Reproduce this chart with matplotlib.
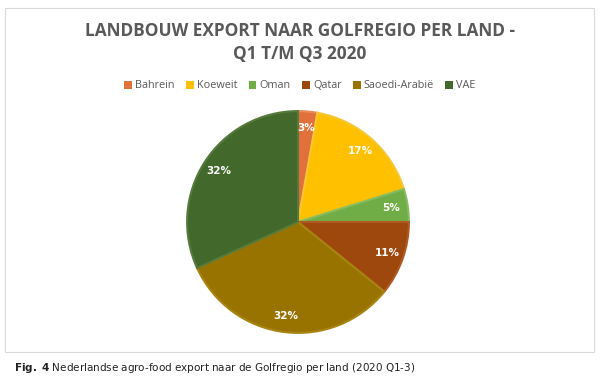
import numpy as np
import matplotlib.pyplot as plt
from matplotlib.patches import Rectangle, Patch

# data
landen = ["Bahrein", "Koeweit", "Oman", "Qatar", "Saoedi-Arabië", "VAE"]
aandeel = [2.8, 17.4, 4.8, 10.8, 32.4, 31.8]
kleuren = ["#E2703A", "#FFC000", "#70AD47", "#9E480E", "#997300", "#43682B"]
randen = ["#E98A5C", "#F5C735", "#86BC5E", "#AE5A22", "#A88410", "#557A3C"]

fig = plt.figure(figsize=(6.0, 3.81), dpi=100)
fig.patch.set_facecolor("white")

# kader om de grafiek
fig.patches.append(Rectangle((5 / 600, 1 - 352 / 381), 589 / 600, 344 / 381,
                             transform=fig.transFigure, facecolor="white",
                             edgecolor="#D9D9D9", linewidth=0.8, zorder=-5))

# TITEL
fig.text(0.5, 1 - 31 / 381, "LANDBOUW EXPORT NAAR GOLFREGIO PER LAND -",
         ha="center", va="center", fontsize=12.4, fontweight="bold",
         color="#595959", family="Open Sans")
fig.text(0.5, 1 - 54 / 381, "Q1 T/M Q3 2020",
         ha="center", va="center", fontsize=12.4, fontweight="bold",
         color="#595959", family="Open Sans")

# PIE
ax = fig.add_axes([186 / 600, 1 - 334 / 381, 224 / 600, 224 / 381])
wedges, _ = ax.pie(aandeel, colors=kleuren, startangle=90, counterclock=False,
                   wedgeprops=dict(linewidth=1.5))
for w, r in zip(wedges, randen):
    w.set_edgecolor(r)

for w, v in zip(wedges, aandeel):
    ang = np.deg2rad((w.theta1 + w.theta2) / 2)
    rr = 0.85
    ax.text(rr * np.cos(ang), rr * np.sin(ang), f"{round(v)}%",
            ha="center", va="center", color="white", fontsize=7.5,
            fontweight="bold", family="DejaVu Sans")
ax.set_xlim(-1.01, 1.01)
ax.set_ylim(-1.01, 1.01)
ax.set_aspect("equal")

# LEGENDA
handles = [Patch(facecolor=k, edgecolor="none") for k in kleuren]
fig.legend(handles, landen, loc="center", bbox_to_anchor=(0.5, 1 - 86 / 381),
           ncol=6, frameon=False, handlelength=0.7,
           handleheight=0.7, handletextpad=0.3, columnspacing=1.05,
           labelcolor="#595959", prop={"family": "Open Sans", "size": 7.8})

# ONDERSCHRIFT
fig.text(14 / 600, 1 - 368 / 381,
         r"$\bf{Fig.\ 4}$ Nederlandse agro-food export naar de Golfregio per land (2020 Q1-3)",
         ha="left", va="center", fontsize=7.5, color="#222222")

fig.savefig("out.png", dpi=100)
